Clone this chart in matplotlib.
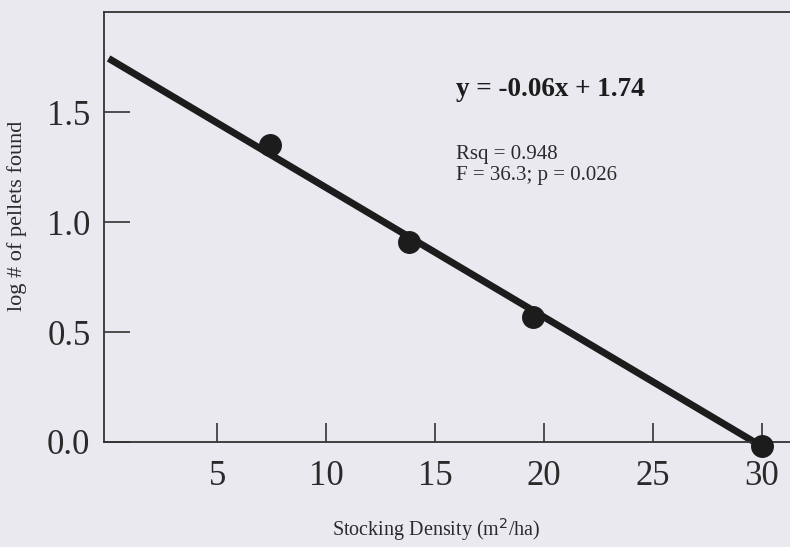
import numpy as np
import matplotlib.pyplot as plt

# stocking density vs log pellet counts
density = [7.4, 13.8, 19.5, 30.0]
log_pellets = [1.35, 0.91, 0.57, -0.02]

# regression coefficients and fit statistics
slope = -0.0588
intercept = 1.744
rsq = 0.948
f_stat = 36.3
p_val = 0.026

xticks = [5, 10, 15, 20, 25, 30]
yticks = [0.0, 0.5, 1.0, 1.5]

bg = '#e9e9ef'
ink = '#1c1c1c'
txt = '#2a2a2a'

plt.rcParams['font.family'] = ['Liberation Serif', 'DejaVu Serif']

fig = plt.figure(figsize=(7.9, 5.47), dpi=100, facecolor=bg)
ax = fig.add_axes([0.132, 0.192, 0.868, 0.786])
ax.set_facecolor(bg)

# fitted line
xs = np.array([0.0, 30.0])
ax.plot(xs, intercept + slope * xs, color=ink, lw=5, solid_capstyle='butt',
        zorder=2, clip_on=False)
ax.plot(density, log_pellets, 'o', color=ink, ms=15.5, zorder=3, clip_on=False)

ax.set_xlim(-0.2, 31.3)
ax.set_ylim(0, 1.955)
ax.set_xticks(xticks)
ax.set_yticks(yticks)
ax.set_yticklabels([f'{v:.1f}' for v in yticks])

ax.spines['right'].set_visible(False)
for side in ['left', 'bottom', 'top']:
    ax.spines[side].set_linewidth(1.3)
    ax.spines[side].set_color('#333333')

ax.tick_params(axis='x', direction='in', length=14, width=1.2, color='#333333',
               labelsize=25, labelcolor=txt, pad=13)
ax.tick_params(axis='y', direction='in', length=19, width=1.2, color='#333333',
               labelsize=25, labelcolor=txt, pad=10)

fig.text(436 / 790, 1 - 530 / 547, 'Stocking Density (m$^2$/ha)', fontsize=14.5,
         color=txt, ha='center', va='center')
fig.text(17 / 790, 1 - 216 / 547, 'log # of pellets found', fontsize=16,
         color=txt, ha='center', va='center', rotation=90)

ax.text(0.513, 0.819, f'y = {slope:.2f}x + {intercept:.2f}', transform=ax.transAxes,
        fontsize=19.5, fontweight='bold', color=ink, va='center')
ax.text(0.513, 0.644, f'Rsq = {rsq:.3f}\nF = {f_stat:.1f}; p = {p_val:.3f}',
        transform=ax.transAxes, fontsize=15, color=txt, va='center',
        linespacing=1.15)

fig.savefig('out.png', dpi=100, facecolor=bg)
